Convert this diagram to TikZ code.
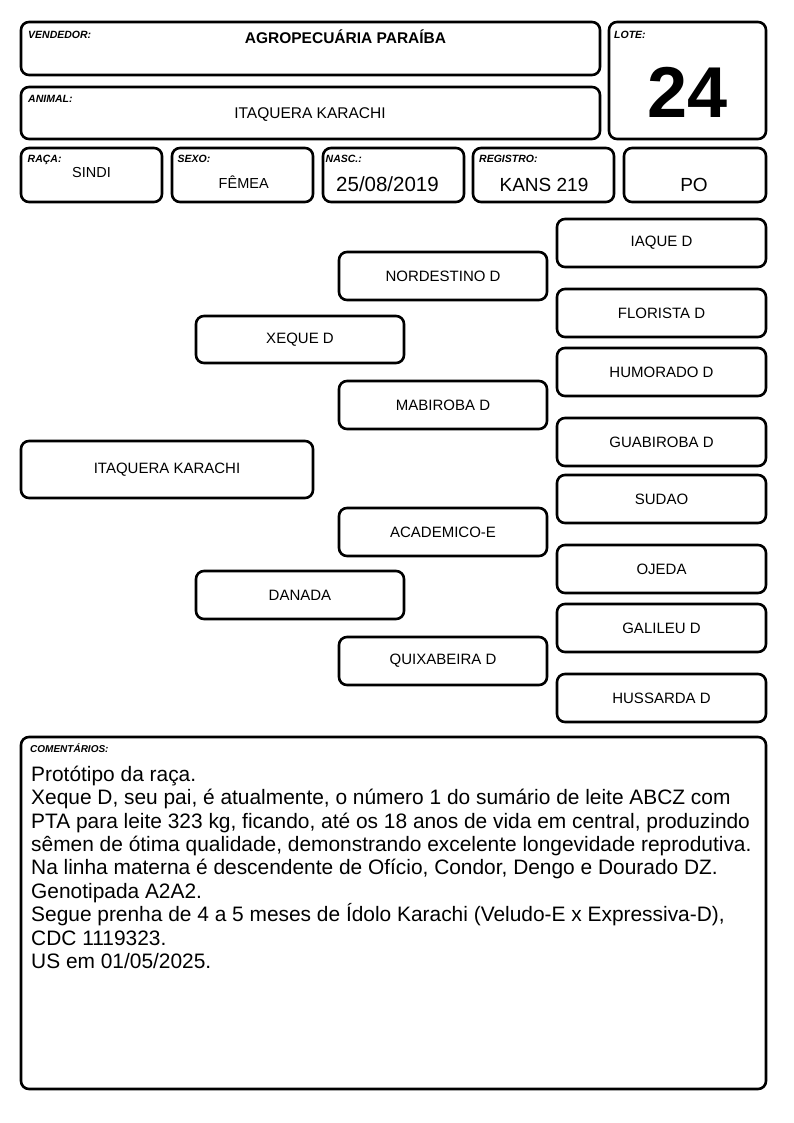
\documentclass[tikz,border=0pt]{standalone}
\usepackage{fontspec}
\setmainfont{Liberation Sans}
\begin{document}
\begin{tikzpicture}[x=1pt, y=-1pt,
    box/.style={rectangle, draw, rounded corners=8pt, line width=2.6pt, inner sep=0pt},
    ped/.style={box, minimum width=208pt, minimum height=48pt, font=\fontsize{15}{18}\selectfont},
    tag/.style={anchor=base west, inner sep=0pt, font=\fontsize{10.5}{12}\selectfont\bfseries\itshape},
    value/.style={anchor=base, inner sep=0pt}
]
\useasboundingbox (0,0) rectangle (794,1123);

% Header boxes
\node[box, minimum width=579pt, minimum height=53pt] (vendbox) at (310.5,48.5) {};
\node[box, minimum width=579pt, minimum height=52pt] (animbox) at (310.5,113) {};
\node[box, minimum width=157pt, minimum height=117pt] (lotebox) at (687.5,80.5) {};
\node[tag] (vendtag) at (28,38.3) {VENDEDOR:};
\node[tag] (animtag) at (28,102.3) {ANIMAL:};
\node[tag] (lotetag) at (614,38.3) {LOTE:};
\node[value, font=\fontsize{15.5}{18}\selectfont\bfseries] (vend) at (345.5,43.3) {AGROPECUÁRIA PARAÍBA};
\node[value, font=\fontsize{15.5}{18}\selectfont] (anim) at (310,119) {ITAQUERA KARACHI};
\node[value, font=\fontsize{72}{80}\selectfont\bfseries] (lote) at (687.5,117.5) {24};

% Data row
\node[box, minimum width=141pt, minimum height=54pt] (racabox) at (91.5,175) {};
\node[box, minimum width=141pt, minimum height=54pt] (sexobox) at (242.5,175) {};
\node[box, minimum width=141pt, minimum height=54pt] (nascbox) at (393.5,175) {};
\node[box, minimum width=141pt, minimum height=54pt] (regbox) at (543.5,175) {};
\node[box, minimum width=142pt, minimum height=54pt] (pobox) at (695,175) {};
\node[tag] (racatag) at (27.5,162.5) {RAÇA:};
\node[tag] (sexotag) at (177.5,163) {SEXO:};
\node[tag] (nasctag) at (325.5,163) {NASC.:};
\node[tag] (regtag) at (479,163) {REGISTRO:};
\node[value, font=\fontsize{14.5}{17}\selectfont] (raca) at (91.5,177.7) {SINDI};
\node[value, font=\fontsize{14.5}{17}\selectfont] (sexo) at (243.7,189) {FÊMEA};
\node[value, font=\fontsize{20.5}{24}\selectfont] (nasc) at (387.5,191.7) {25/08/2019};
\node[value, font=\fontsize{19}{22}\selectfont] (reg) at (544,191.7) {KANS 219};
\node[value, font=\fontsize{19}{22}\selectfont] (po) at (694,191.7) {PO};

% Pedigree
\node[ped, minimum width=292pt, minimum height=57pt] (animal) at (167,469.5) {ITAQUERA KARACHI};
\node[ped, minimum height=47pt] (pai) at (300,339.5) {XEQUE D};
\node[ped] (mae) at (300,595) {DANADA};
\node[ped] (avo1) at (443,276) {NORDESTINO D};
\node[ped] (avo2) at (443,405) {MABIROBA D};
\node[ped] (avo3) at (443,532) {ACADEMICO-E};
\node[ped] (avo4) at (443,661) {QUIXABEIRA D};
\node[ped, minimum width=209pt] (bis1) at (661.5,243) {IAQUE D};
\node[ped, minimum width=209pt] (bis2) at (661.5,313) {FLORISTA D};
\node[ped, minimum width=209pt] (bis3) at (661.5,372) {HUMORADO D};
\node[ped, minimum width=209pt] (bis4) at (661.5,442) {GUABIROBA D};
\node[ped, minimum width=209pt] (bis5) at (661.5,499) {SUDAO};
\node[ped, minimum width=209pt] (bis6) at (661.5,569) {OJEDA};
\node[ped, minimum width=209pt] (bis7) at (661.5,628) {GALILEU D};
\node[ped, minimum width=209pt] (bis8) at (661.5,698) {HUSSARDA D};

% Comments
\node[box, minimum width=745pt, minimum height=352pt] (combox) at (393.5,913) {};
\node[tag, font=\fontsize{10}{12}\selectfont\bfseries\itshape] (comtag) at (30,752.7) {COMENTÁRIOS:};
% base of a multi-line node = last line
\node[anchor=base west, inner sep=0pt, align=left, font=\fontsize{20.9}{23.4}\selectfont] (com) at (31,968.5) {Protótipo da raça.\\
Xeque D, seu pai, é atualmente, o número 1 do sumário de leite ABCZ com\\
PTA para leite 323 kg, ficando, até os 18 anos de vida em central, produzindo\\
sêmen de ótima qualidade, demonstrando excelente longevidade reprodutiva.\\
Na linha materna é descendente de Ofício, Condor, Dengo e Dourado DZ.\\
Genotipada A2A2.\\
Segue prenha de 4 a 5 meses de Ídolo Karachi (Veludo-E x Expressiva-D),\\
CDC 1119323.\\
US em 01/05/2025.};
\end{tikzpicture}
\end{document}
